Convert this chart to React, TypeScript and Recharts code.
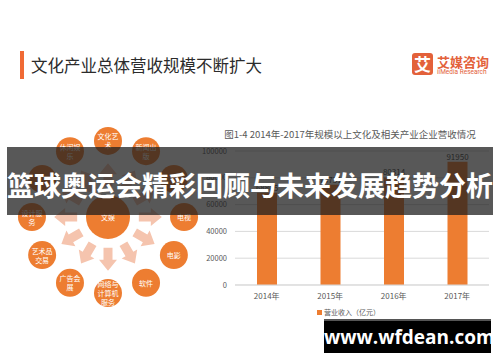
import { Bar, BarChart, CartesianGrid, LabelList, Scatter, ScatterChart, XAxis, YAxis } from "recharts"

// bar chart values (亿元)
const years = ["2014年", "2015年", "2016年", "2017年"]
const revenue = [68865, 74751, 80314, 91950]
const yTicks = [0, 10000, 20000, 30000, 40000, 50000, 60000, 70000, 80000, 90000, 100000]

// ring of sectors, clockwise from the top; two labels sit under the banner and can't be read
const sectors = [
  "文化艺\n术",
  "新闻出\n版",
  "",
  "电视",
  "电影",
  "软件",
  "网络与\n计算机\n服务",
  "广告会\n展",
  "艺术品\n交易",
  "设计服\n务",
  "",
  "休闲娱\n乐",
]
const hub = "文娱"

const ORANGE = "#ed7d31"
const FONT = '"Noto Sans CJK SC", "Noto Sans", sans-serif'

const barData = years.map((year, i) => ({ year, value: revenue[i] }))

const nodes = sectors.map((label, i) => {
  const a = ((90 - i * 30) * Math.PI) / 180
  return { x: Math.cos(a), y: Math.sin(a), label, angle: 90 - i * 30 }
})
const arrows = sectors.map((_, i) => {
  const a = ((90 - i * 30) * Math.PI) / 180
  return { x: 0.55 * Math.cos(a), y: 0.55 * Math.sin(a), angle: 90 - i * 30 }
})
const hubData = [{ x: 0, y: 0, label: hub }]

const NodeShape = (r: number) => (props: any) => {
  const { cx, cy, payload } = props
  const lines: string[] = payload.label ? payload.label.split("\n") : []
  return (
    <g>
      <circle cx={cx} cy={cy} r={r} fill={ORANGE} />
      {lines.map((t, i) => (
        <text
          key={i}
          x={cx}
          y={cy + (i - (lines.length - 1) / 2) * 9}
          textAnchor="middle"
          dominantBaseline="central"
          fill="#fff"
          fontSize={7}
          fontFamily={FONT}
        >
          {t}
        </text>
      ))}
    </g>
  )
}

const ArrowShape = (props: any) => {
  const { cx, cy, payload } = props
  return (
    <polygon
      points="-11,-4.5 1,-4.5 1,-9 12,0 1,9 1,4.5 -11,4.5"
      fill="#f5c4ae"
      transform={`translate(${cx},${cy}) rotate(${-payload.angle})`}
    />
  )
}

function Diagram() {
  return (
    <ScatterChart width={216} height={216} margin={{ top: 0, right: 0, bottom: 0, left: 0 }}>
      <XAxis type="number" dataKey="x" domain={[-1.42, 1.42]} hide />
      <YAxis type="number" dataKey="y" domain={[-1.42, 1.42]} hide />
      <Scatter data={arrows} shape={ArrowShape} isAnimationActive={false} />
      <Scatter data={nodes} shape={NodeShape(14)} isAnimationActive={false} />
      <Scatter data={hubData} shape={NodeShape(22)} isAnimationActive={false} />
    </ScatterChart>
  )
}

function RevenueChart() {
  return (
    <BarChart width={300} height={200} data={barData} margin={{ top: 26, right: 11, bottom: 24, left: 0 }}>
      <CartesianGrid vertical={false} stroke="#d9d9d9" />
      <XAxis
        dataKey="year"
        tickLine={false}
        axisLine={{ stroke: "#d9d9d9" }}
        height={16}
        tick={{ fontSize: 8, fill: "#595959", fontFamily: FONT }}
      />
      <YAxis
        domain={[0, 100000]}
        ticks={yTicks}
        width={35}
        tickLine={false}
        axisLine={false}
        tick={{ fontSize: 7.5, fill: "#595959", fontFamily: FONT }}
      />
      <Bar dataKey="value" fill={ORANGE} barSize={20} isAnimationActive={false}>
        <LabelList dataKey="value" position="top" offset={2} fontSize={8} fill="#404040" fontFamily={FONT} />
      </Bar>
    </BarChart>
  )
}

export default function App() {
  return (
    <div
      style={{
        position: "absolute",
        left: 0,
        top: 0,
        width: 500,
        height: 362,
        background: "#fff",
        overflow: "hidden",
        fontFamily: FONT,
      }}
    >
      {/* slide header */}
      <div style={{ position: "absolute", left: 20, top: 51, width: 4, height: 28, background: "#f06a35" }} />
      <div style={{ position: "absolute", left: 31, top: 54, fontSize: 16.5, lineHeight: "22px", color: "#2b2b2b" }}>
        文化产业总体营收规模不断扩大
      </div>
      <div
        style={{
          position: "absolute",
          left: 412,
          top: 53,
          width: 21,
          height: 22,
          borderRadius: 3,
          background: "#e3613a",
          color: "#fff",
          fontSize: 17,
          fontWeight: 700,
          lineHeight: "22px",
          textAlign: "center",
        }}
      >
        艾
      </div>
      <div style={{ position: "absolute", left: 437, top: 54, fontSize: 13, lineHeight: "15px", color: "#e3613a", fontWeight: 700 }}>
        艾媒咨询
      </div>
      <div
        style={{
          position: "absolute",
          left: 437,
          top: 68,
          fontSize: 6.5,
          lineHeight: "8px",
          color: "#e3613a",
          fontFamily: "Roboto, sans-serif",
          whiteSpace: "nowrap",
        }}
      >
        iiMedia Research
      </div>

      {/* sector diagram */}
      <div style={{ position: "absolute", left: 0, top: 109 }}>
        <Diagram />
      </div>

      {/* bar chart */}
      <div
        style={{
          position: "absolute",
          left: 200,
          top: 128,
          width: 300,
          textAlign: "center",
          fontSize: 9.5,
          lineHeight: "12px",
          color: "#595959",
          whiteSpace: "nowrap",
        }}
      >
        图1-4 2014年-2017年规模以上文化及相关产业企业营收情况
      </div>
      <div style={{ position: "absolute", left: 200, top: 125 }}>
        <RevenueChart />
      </div>
      <div style={{ position: "absolute", left: 317, top: 307, display: "flex", alignItems: "center", whiteSpace: "nowrap" }}>
        <span style={{ width: 5, height: 5, background: ORANGE, marginRight: 2 }} />
        <span style={{ fontSize: 7, lineHeight: "10px", color: "#595959" }}>营业收入（亿元）</span>
      </div>

      {/* banner */}
      <div
        style={{
          position: "absolute",
          left: 7,
          top: 147,
          width: 486,
          height: 68,
          background: "rgba(30,30,30,0.74)",
          color: "#fff",
          fontSize: 27,
          fontWeight: 700,
          lineHeight: "68px",
          textAlign: "center",
          whiteSpace: "nowrap",
          letterSpacing: 0,
        }}
      >
        <span style={{ position: "relative", top: 4 }}>篮球奥运会精彩回顾与未来发展趋势分析</span>
      </div>

      {/* watermark */}
      <div
        style={{
          position: "absolute",
          left: 324,
          top: 319,
          width: 167,
          height: 34,
          background: "#000",
          borderTop: "2px solid #555",
          boxSizing: "border-box",
          color: "#fff",
          fontSize: 19,
          fontWeight: 700,
          lineHeight: "32px",
          textAlign: "center",
          fontFamily: '"Open Sans", "DejaVu Sans", sans-serif',
        }}
      >
        www.wfdean.com
      </div>
    </div>
  )
}
